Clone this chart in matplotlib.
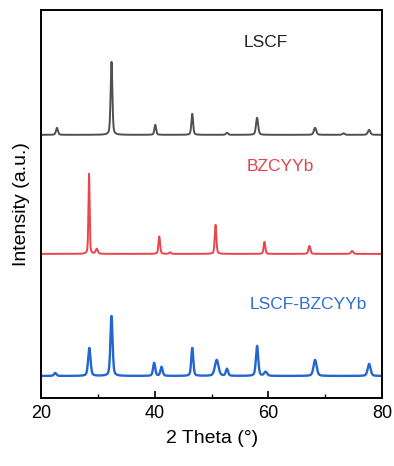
import numpy as np
from matplotlib import pyplot as plt

plt.rcParams['font.family'] = ['Liberation Sans', 'DejaVu Sans']

# peak lists: position (2theta, deg), height, fwhm
lscf_pos = [22.8, 32.4, 40.1, 46.6, 52.7, 58.0, 68.2, 73.2, 77.7]
lscf_h = [7, 73, 10, 21, 2, 17, 7, 1.5, 5]
lscf_w = [0.4, 0.36, 0.36, 0.36, 0.45, 0.45, 0.5, 0.5, 0.5]

bzc_pos = [28.45, 29.8, 40.8, 42.7, 50.7, 59.3, 67.2, 74.7]
bzc_h = [80, 5, 17.5, 1.5, 29, 12, 8, 3]
bzc_w = [0.25, 0.45, 0.34, 0.4, 0.34, 0.34, 0.4, 0.45]

mix_pos = [22.5, 28.5, 32.4, 39.9, 41.2, 46.6, 50.9, 52.7, 58.0, 59.5, 68.2, 77.7]
mix_h = [3, 28, 60, 13, 9, 28, 16, 7, 30, 4, 16, 12]
mix_w = [0.5, 0.5, 0.45, 0.45, 0.45, 0.42, 0.75, 0.45, 0.48, 0.6, 0.65, 0.6]

baselines = {"LSCF": 263, "BZCYYb": 144, "LSCF-BZCYYb": 22}

tt = np.linspace(20, 80, 4000)


def pattern(pos, h, w, base):
    y = np.full_like(tt, float(base))
    for p, a, f in zip(pos, h, w):
        g = np.exp(-4 * np.log(2) * ((tt - p) / f) ** 2)
        l = 1 / (1 + 4 * ((tt - p) / f) ** 2)
        y += a * (0.6 * g + 0.4 * l)
    return y


fig = plt.figure(figsize=(3.94, 4.66), dpi=100)
ax = fig.add_axes([0.104, 0.146, 0.866, 0.833])

ax.plot(tt, pattern(lscf_pos, lscf_h, lscf_w, baselines["LSCF"]), c="#505050", lw=1.4)
ax.plot(tt, pattern(bzc_pos, bzc_h, bzc_w, baselines["BZCYYb"]), c="#e8454c", lw=1.4)
ax.plot(tt, pattern(mix_pos, mix_h, mix_w, baselines["LSCF-BZCYYb"]), c="#2266d4", lw=1.7)

ax.text(59.5, 355, "LSCF", color="#222222", fontsize=12.5, ha="center", va="center")
ax.text(62, 231, "BZCYYb", color="#e3454c", fontsize=12.5, ha="center", va="center")
ax.text(67, 93, "LSCF-BZCYYb", color="#2f6fd0", fontsize=12.5, ha="center", va="center")

ax.set_xlim(20, 80)
ax.set_ylim(0, 388)
ax.set_xticks([20, 40, 60, 80])
ax.set_xticks([30, 50, 70], minor=True)
ax.set_yticks([])
ax.tick_params(axis="x", which="major", direction="in", length=5, width=1.2, labelsize=13, pad=5)
ax.tick_params(axis="x", which="minor", direction="in", length=3, width=1.0)
for s in ax.spines.values():
    s.set_linewidth(1.4)

ax.set_xlabel("2 Theta (°)", fontsize=14, labelpad=6)
ax.set_ylabel("Intensity (a.u.)", fontsize=14, labelpad=8)

fig.savefig("out.png", dpi=100)
